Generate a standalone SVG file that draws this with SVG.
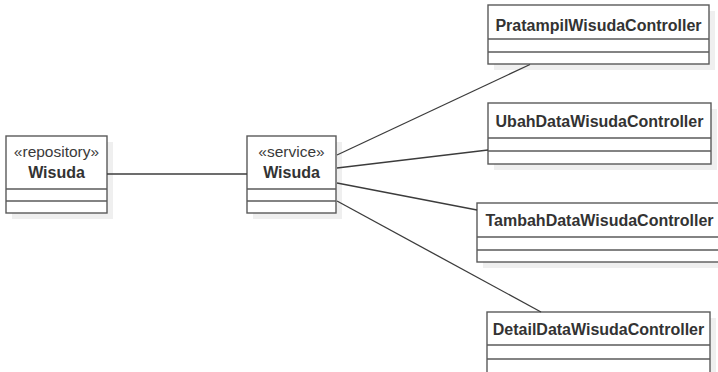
<svg xmlns="http://www.w3.org/2000/svg" width="718" height="372" viewBox="0 0 718 372">
<style>
.shadow{fill:#efefef;stroke:none}
.box{fill:#ffffff;stroke:#5a5a5a;stroke-width:1.4}
.sep{stroke:#5a5a5a;stroke-width:1.4}
.st{font-family:"Liberation Sans",Arial,sans-serif;font-size:15.5px;fill:#3a3a3a;text-anchor:middle}
.nm{font-family:"Liberation Sans",Arial,sans-serif;font-size:16px;font-weight:bold;fill:#333333;text-anchor:middle}
.cn{font-family:"Liberation Sans",Arial,sans-serif;font-size:16px;font-weight:bold;fill:#333333;text-anchor:middle}
.edge{stroke:#3c3c3c;stroke-width:1.3;fill:none}
</style>
<rect width="718" height="372" fill="#ffffff"/>
<g id="repositoryWisuda">
<rect class="shadow" x="12" y="142" width="101" height="77"/>
<rect class="box" x="6" y="136" width="101" height="77"/>
<line class="sep" x1="6" y1="189" x2="107" y2="189"/>
<line class="sep" x1="6" y1="201" x2="107" y2="201"/>
<text class="st" x="56.5" y="157">«repository»</text>
<text class="nm" x="56.5" y="178">Wisuda</text>
</g>
<g id="serviceWisuda">
<rect class="shadow" x="253" y="142" width="89" height="77"/>
<rect class="box" x="247" y="136" width="89" height="77"/>
<line class="sep" x1="247" y1="189" x2="336" y2="189"/>
<line class="sep" x1="247" y1="201" x2="336" y2="201"/>
<text class="st" x="291.5" y="157">«service»</text>
<text class="nm" x="291.5" y="178">Wisuda</text>
</g>
<g id="PratampilWisudaController">
<rect class="shadow" x="494" y="11" width="221" height="59"/>
<rect class="box" x="488" y="5" width="221" height="59"/>
<line class="sep" x1="488" y1="39" x2="709" y2="39"/>
<line class="sep" x1="488" y1="52" x2="709" y2="52"/>
<text class="cn" x="598.5" y="31">PratampilWisudaController</text>
</g>
<g id="UbahDataWisudaController">
<rect class="shadow" x="494" y="109" width="223" height="61"/>
<rect class="box" x="488" y="103" width="223" height="61"/>
<line class="sep" x1="488" y1="138" x2="711" y2="138"/>
<line class="sep" x1="488" y1="151" x2="711" y2="151"/>
<text class="cn" x="599.5" y="127">UbahDataWisudaController</text>
</g>
<g id="TambahDataWisudaController">
<rect class="shadow" x="483" y="209" width="245" height="59"/>
<rect class="box" x="477" y="203" width="245" height="59"/>
<line class="sep" x1="477" y1="237" x2="722" y2="237"/>
<line class="sep" x1="477" y1="250" x2="722" y2="250"/>
<text class="cn" x="599.5" y="226">TambahDataWisudaController</text>
</g>
<g id="DetailDataWisudaController">
<rect class="shadow" x="493" y="318" width="223" height="60"/>
<rect class="box" x="487" y="312" width="223" height="64"/>
<line class="sep" x1="487" y1="345" x2="710" y2="345"/>
<line class="sep" x1="487" y1="359" x2="710" y2="359"/>
<text class="cn" x="598.5" y="335">DetailDataWisudaController</text>
</g>
<g id="connectors">
<line class="edge" x1="107" y1="174" x2="247" y2="174"/>
<line class="edge" x1="337" y1="155" x2="530" y2="64.5"/>
<line class="edge" x1="337" y1="168" x2="488" y2="150"/>
<line class="edge" x1="337" y1="183" x2="477" y2="210"/>
<line class="edge" x1="337" y1="201" x2="541" y2="312"/>
</g>
</svg>
